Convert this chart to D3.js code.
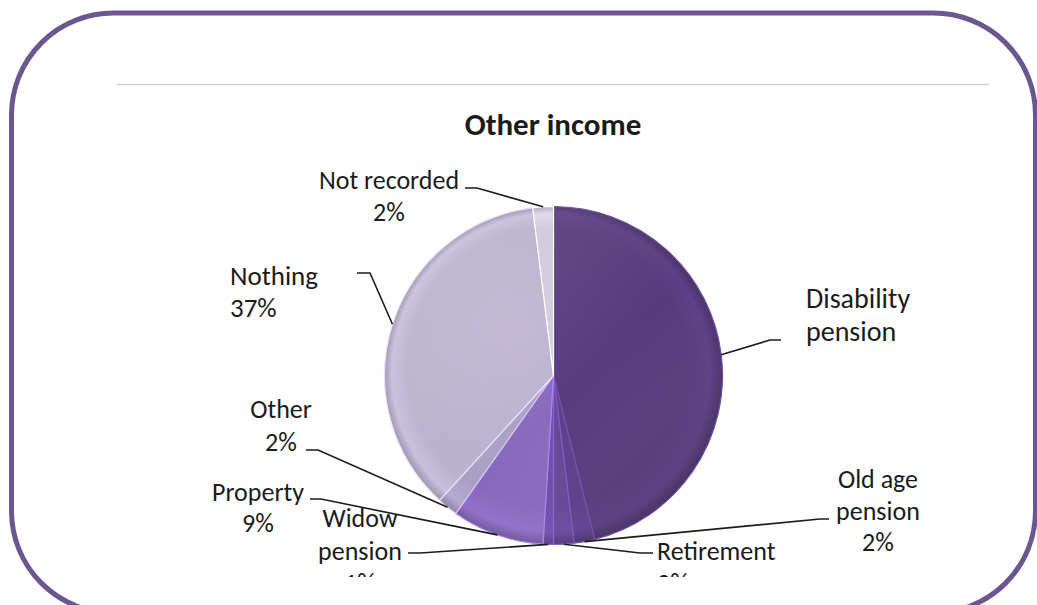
<!DOCTYPE html>
<html>
<head>
<meta charset="utf-8">
<script src="https://cdn.jsdelivr.net/npm/d3@7"></script>
<style>
  html, body { margin: 0; padding: 0; background: #ffffff; }
  svg { display: block; }
  text { font-family: Carlito, Lato, "Open Sans", sans-serif; fill: #1b1b1b; }
</style>
</head>
<body>
<svg id="chart" width="1037" height="605"></svg>
<script>
// Income sources, in drawing order (clockwise from 12 o'clock)
const categories = [
  "Disability pension", "Old age pension", "Retirement", "Widow pension",
  "Property", "Other", "Nothing", "Not recorded"
];
const values = [47, 2, 2, 1, 9, 2, 37, 2];
// Label text split over lines; the value line follows when shown
const nameLines = [
  ["Disability", "pension"], ["Old age", "pension"], ["Retirement"], ["Widow", "pension"],
  ["Property"], ["Other"], ["Nothing"], ["Not recorded"]
];
const showValue = [false, true, true, true, true, true, true, true];
const sliceColors = [
  "#553b7c", "#5b3f8a", "#634796", "#6c4ea5",
  "#8769bb", "#a99fc3", "#b9b0cd", "#cdc7db"
];
const title = "Other income";

// Label placement: text anchor point, line gap, font size, leader elbow and end
const labelLayout = [
  { x: 806, y: 308, anchor: "start",  size: 28, gap: 33, elbow: [770, 340], end: [781, 340] },
  { x: 878, y: 488, anchor: "middle", size: 26, gap: 31.5, elbow: [820, 519], end: [829, 519] },
  { x: 657, y: 560, anchor: "start",  size: 26, gap: 32, elbow: [640, 553], end: [653, 553] },
  { x: 360, y: 527, anchor: "middle", size: 26, gap: 32.5, elbow: [420, 553], end: [408, 553] },
  { x: 258, y: 501, anchor: "middle", size: 26, gap: 31, elbow: [321, 499], end: [310, 499] },
  { x: 281, y: 418, anchor: "middle", size: 26, gap: 32.5, elbow: [318, 450], end: [306, 450] },
  { x: 230, y: 285, anchor: "start",  size: 27, gap: 31.5, elbow: [370, 273], end: [357, 273] },
  { x: 389, y: 189, anchor: "middle", size: 26, gap: 32, elbow: [477, 188], end: [465, 188] }
];

const svg = d3.select("#chart");
const defs = svg.append("defs");

// Slide frame
svg.append("rect")
  .attr("x", 11.5).attr("y", 13)
  .attr("width", 1024).attr("height", 600)
  .attr("rx", 102).attr("ry", 102)
  .attr("fill", "none")
  .attr("stroke", "#6b5690")
  .attr("stroke-width", 5);

// Chart image area (clipped at the bottom)
defs.append("clipPath").attr("id", "chartClip")
  .append("rect").attr("x", 117).attr("y", 83).attr("width", 872).attr("height", 494);

const chart = svg.append("g").attr("clip-path", "url(#chartClip)");

chart.append("line")
  .attr("x1", 117).attr("x2", 989).attr("y1", 84.5).attr("y2", 84.5)
  .attr("stroke", "#cfcfcf").attr("stroke-width", 1.5);

chart.append("text")
  .attr("x", 553).attr("y", 135)
  .attr("text-anchor", "middle")
  .attr("font-weight", 700)
  .attr("font-size", 31)
  .text(title);

const cx = 553.5, cy = 375.5, r = 169;

const pie = d3.pie().sort(null).value(d => d.value);
const data = categories.map((c, i) => ({ name: c, value: values[i], i }));
const arcs = pie(data);

const arc = d3.arc().innerRadius(0).outerRadius(r);
const rimArc = d3.arc().innerRadius(r).outerRadius(r);

const pieG = chart.append("g").attr("transform", `translate(${cx},${cy})`);

// Per-slice radial shading: soft light core, bevel band near the rim
sliceColors.forEach((c, i) => {
  const base = d3.color(c);
  const g = defs.append("radialGradient")
    .attr("id", "slice" + i)
    .attr("gradientUnits", "userSpaceOnUse")
    .attr("cx", 0).attr("cy", 0).attr("r", r)
    .attr("fx", -r * 0.25).attr("fy", -r * 0.3);
  g.append("stop").attr("offset", "0%").attr("stop-color", base.brighter(0.1));
  g.append("stop").attr("offset", "82%").attr("stop-color", base);
  g.append("stop").attr("offset", "94%").attr("stop-color", base.brighter(0.2));
  g.append("stop").attr("offset", "100%").attr("stop-color", base.darker(0.5));
});

pieG.selectAll("path.slice")
  .data(arcs)
  .join("path")
  .attr("class", "slice")
  .attr("d", arc)
  .attr("fill", d => `url(#slice${d.data.i})`)
  .attr("stroke", d => d3.color(sliceColors[d.data.i]).brighter(0.7))
  .attr("stroke-width", 1.2)
  .attr("stroke-linejoin", "round");

// Global light from the upper left
const light = defs.append("linearGradient").attr("id", "pieLight")
  .attr("x1", "0%").attr("y1", "0%").attr("x2", "100%").attr("y2", "100%");
light.append("stop").attr("offset", "0%").attr("stop-color", "#ffffff").attr("stop-opacity", 0.14);
light.append("stop").attr("offset", "55%").attr("stop-color", "#ffffff").attr("stop-opacity", 0);
light.append("stop").attr("offset", "100%").attr("stop-color", "#000000").attr("stop-opacity", 0.12);

pieG.append("circle").attr("r", r).attr("fill", "url(#pieLight)").attr("pointer-events", "none");

// Leader lines
chart.selectAll("path.leader")
  .data(arcs)
  .join("path")
  .attr("class", "leader")
  .attr("d", d => {
    const L = labelLayout[d.data.i];
    const p = rimArc.centroid(d);
    return d3.line()([[p[0] + cx, p[1] + cy], L.elbow, L.end]);
  })
  .attr("fill", "none")
  .attr("stroke", "#1b1b1b")
  .attr("stroke-width", 1.6);

// Labels
arcs.forEach(d => {
  const i = d.data.i;
  const L = labelLayout[i];
  const lines = nameLines[i].slice();
  if (showValue[i]) lines.push(values[i] + "%");
  const t = chart.append("text")
    .attr("text-anchor", L.anchor)
    .attr("font-size", L.size);
  lines.forEach((s, k) => {
    t.append("tspan").attr("x", L.x).attr("y", L.y + k * L.gap).text(s);
  });
});
</script>
</body>
</html>
